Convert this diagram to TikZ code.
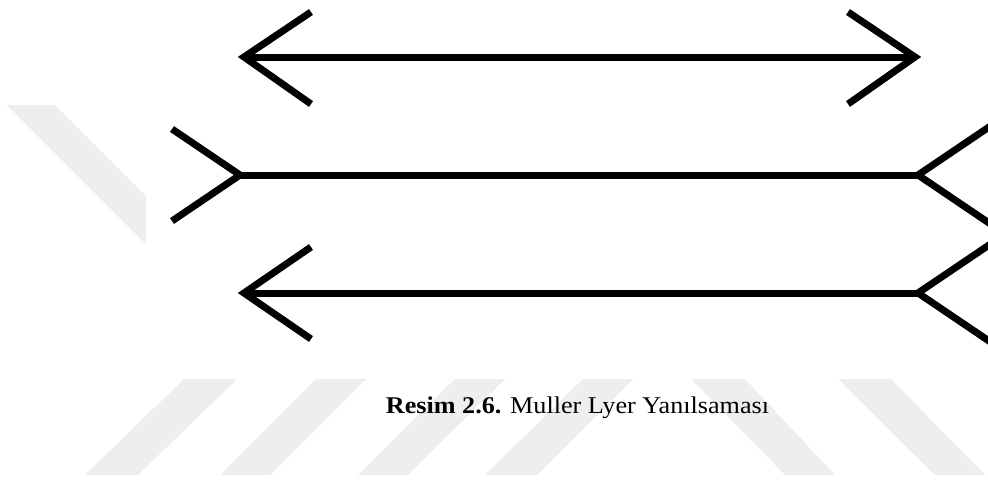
\documentclass[tikz,border=0pt]{standalone}
\usepackage{fontspec}
\setmainfont{Liberation Serif}
\definecolor{wmgray}{RGB}{238,238,238}
\tikzset{
  wm/.style={fill=wmgray, draw=none},
  shaft/.style={line width=7pt, black},
  fin/.style={line width=7pt, black, line join=miter},
  caption/.style={inner sep=0pt, anchor=base, font=\fontsize{24}{28}\selectfont}
}
\begin{document}
\begin{tikzpicture}[x=1pt, y=-1pt]
\useasboundingbox (0,0) rectangle (988,482);
\clip (0,0) rectangle (988,482);
\fill[white] (0,0) rectangle (988,482);
% watermark stripes
\fill[wm] (7,105) -- (55,105) -- (146,196) -- (146,243) -- (145,243) -- cycle;
\fill[wm] (184,379) -- (237,379) -- (138,475) -- (85,475) -- cycle;
\fill[wm] (316,379) -- (366,379) -- (270,475) -- (220,475) -- cycle;
\fill[wm] (455,379) -- (505,379) -- (408,475) -- (358,475) -- cycle;
\fill[wm] (583,379) -- (633,379) -- (537,475) -- (485,475) -- cycle;
\fill[wm] (691,379) -- (745,379) -- (835,475) -- (785,475) -- cycle;
\fill[wm] (838,379) -- (891,379) -- (985,475) -- (935,475) -- cycle;
% top figure: arrows pointing outward
\coordinate (t1) at (244,57);
\coordinate (t2) at (915,57);
\coordinate (t1a) at (311,12);
\coordinate (t1b) at (311,104);
\coordinate (t2a) at (848,12);
\coordinate (t2b) at (848,104);
\draw[shaft] (t1) -- (t2);
\draw[fin] (t1a) -- (t1) -- (t1b);
\draw[fin] (t2a) -- (t2) -- (t2b);
% middle figure: fins pointing outward
\coordinate (m1) at (240,175);
\coordinate (m2) at (918,175);
\coordinate (m1a) at (172,129);
\coordinate (m1b) at (172,221);
\coordinate (m2a) at (992,125);
\coordinate (m2b) at (992,225);
\draw[shaft] (m1) -- (m2);
\draw[fin] (m1a) -- (m1) -- (m1b);
\draw[fin] (m2a) -- (m2) -- (m2b);
% bottom figure: mixed
\coordinate (b1) at (244,293);
\coordinate (b2) at (918,293);
\coordinate (b1a) at (311,247);
\coordinate (b1b) at (311,339);
\coordinate (b2a) at (992,243);
\coordinate (b2b) at (992,343);
\draw[shaft] (b1) -- (b2);
\draw[fin] (b1a) -- (b1) -- (b1b);
\draw[fin] (b2a) -- (b2) -- (b2b);
% caption
\node[caption] (cap) at (577.5,413) {\scalebox{1.09}[1]{\textbf{Resim 2.6.} Muller Lyer Yanılsaması}};
\end{tikzpicture}
\end{document}
